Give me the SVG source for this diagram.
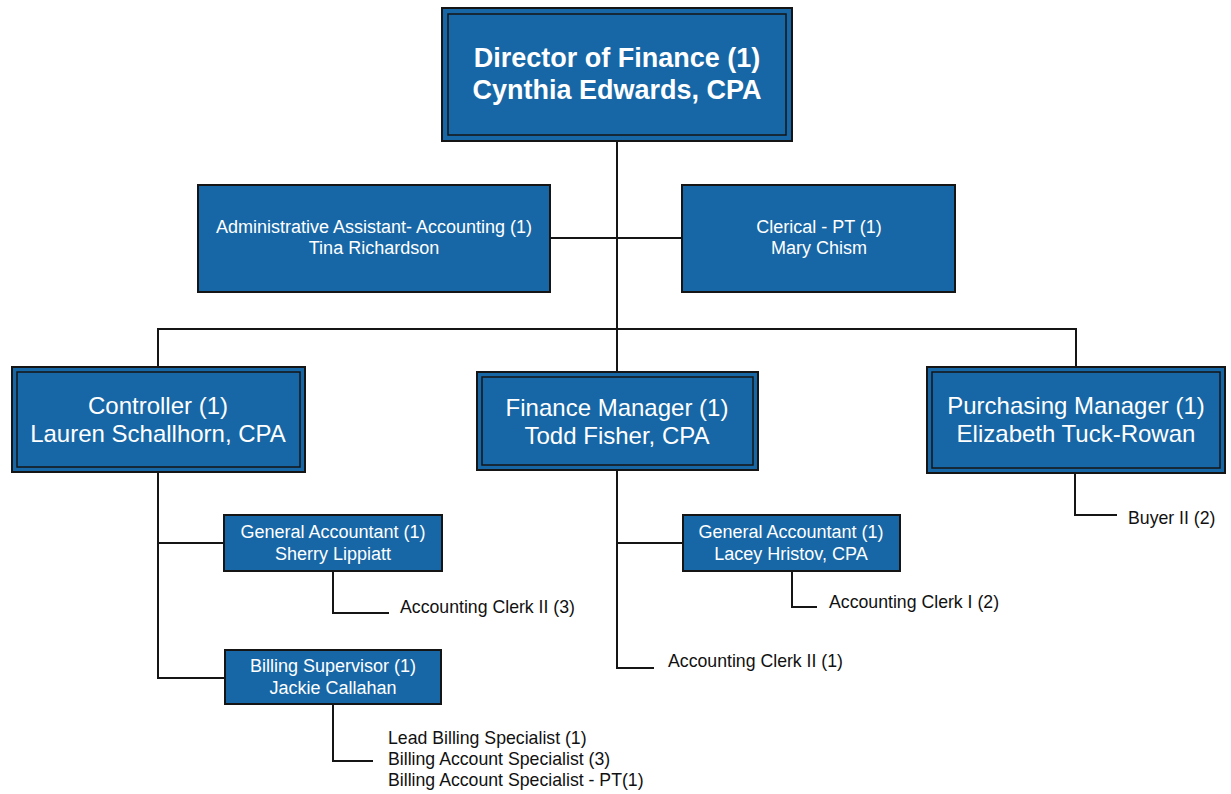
<svg xmlns="http://www.w3.org/2000/svg" width="1231" height="794" viewBox="0 0 1231 794">
  <style>
    .box { fill: #1767a6; stroke: #151515; stroke-width: 2; }
    .inner { fill: none; stroke: #151515; stroke-width: 1.5; }
    .t { font-family: "Liberation Sans", Arial, sans-serif; fill: #ffffff; text-anchor: middle; }
    .lead { font-size: 27px; font-weight: bold; }
    .mgr { font-size: 24px; }
    .mid { font-size: 18px; }
    .leaf { font-family: "Liberation Sans", Arial, sans-serif; font-size: 17.7px; fill: #111111; }
    .conn { fill: none; stroke: #151515; stroke-width: 2; }
  </style>
  <rect width="1231" height="794" fill="#ffffff"/>

  <!-- connectors -->
  <g id="connectors">
    <!-- trunk from director to finance manager -->
    <path class="conn" d="M617 142 V372"/>
    <!-- staff line to assistants -->
    <path class="conn" d="M550 238 H682"/>
    <!-- bus to the three managers -->
    <path class="conn" d="M158 366 V329 H1076 V366"/>
    <!-- controller branch -->
    <path class="conn" d="M158 472 V678 H225"/>
    <path class="conn" d="M158 543 H224"/>
    <path class="conn" d="M333 571 V613 H389"/>
    <path class="conn" d="M333 704 V761 H373"/>
    <!-- finance manager branch -->
    <path class="conn" d="M617 470 V668 H654"/>
    <path class="conn" d="M617 543 H683"/>
    <path class="conn" d="M792 571 V607 H817"/>
    <!-- purchasing branch -->
    <path class="conn" d="M1075 473 V515 H1117"/>
  </g>

  <g id="director">
    <rect class="box" x="442" y="8" width="350" height="133"/>
    <rect class="inner" x="448" y="14" width="338" height="121"/>
    <text class="t lead" x="617" y="67">Director of Finance (1)</text>
    <text class="t lead" x="617" y="99">Cynthia Edwards, CPA</text>
  </g>

  <g id="admin-assistant">
    <rect class="box" x="198" y="185" width="352" height="107"/>
    <text class="t mid" x="374" y="233">Administrative Assistant- Accounting (1)</text>
    <text class="t mid" x="374" y="254">Tina Richardson</text>
  </g>

  <g id="clerical">
    <rect class="box" x="682" y="185" width="273" height="107"/>
    <text class="t mid" x="819" y="233">Clerical - PT (1)</text>
    <text class="t mid" x="819" y="254">Mary Chism</text>
  </g>

  <g id="controller">
    <rect class="box" x="12" y="367" width="293" height="105"/>
    <rect class="inner" x="17" y="372" width="283" height="95"/>
    <text class="t mgr" x="158" y="414">Controller (1)</text>
    <text class="t mgr" x="158" y="442">Lauren Schallhorn, CPA</text>
  </g>

  <g id="finance-manager">
    <rect class="box" x="477" y="372" width="281" height="98"/>
    <rect class="inner" x="482" y="377" width="271" height="88"/>
    <text class="t mgr" x="617" y="416">Finance Manager (1)</text>
    <text class="t mgr" x="617" y="444">Todd Fisher, CPA</text>
  </g>

  <g id="purchasing-manager">
    <rect class="box" x="927" y="367" width="298" height="106"/>
    <rect class="inner" x="932" y="372" width="288" height="96"/>
    <text class="t mgr" x="1076" y="414">Purchasing Manager (1)</text>
    <text class="t mgr" x="1076" y="442">Elizabeth Tuck-Rowan</text>
  </g>

  <g id="general-accountant-1">
    <rect class="box" x="224" y="515" width="218" height="56"/>
    <text class="t mid" x="333" y="538">General Accountant (1)</text>
    <text class="t mid" x="333" y="560">Sherry Lippiatt</text>
  </g>

  <g id="billing-supervisor">
    <rect class="box" x="225" y="650" width="216" height="54"/>
    <text class="t mid" x="333" y="672">Billing Supervisor (1)</text>
    <text class="t mid" x="333" y="694">Jackie Callahan</text>
  </g>

  <g id="general-accountant-2">
    <rect class="box" x="683" y="515" width="217" height="56"/>
    <text class="t mid" x="791" y="538">General Accountant (1)</text>
    <text class="t mid" x="791" y="560">Lacey Hristov, CPA</text>
  </g>

  <g id="accounting-clerk-ii-3">
    <text class="leaf" x="400" y="613">Accounting Clerk II (3)</text>
  </g>

  <g id="billing-staff">
    <text class="leaf" x="388" y="744">Lead Billing Specialist (1)</text>
    <text class="leaf" x="388" y="765">Billing Account Specialist (3)</text>
    <text class="leaf" x="388" y="786">Billing Account Specialist - PT(1)</text>
  </g>

  <g id="accounting-clerk-i-2">
    <text class="leaf" x="829" y="608">Accounting Clerk I (2)</text>
  </g>

  <g id="accounting-clerk-ii-1">
    <text class="leaf" x="668" y="667">Accounting Clerk II (1)</text>
  </g>

  <g id="buyer-ii">
    <text class="leaf" x="1128" y="524">Buyer II (2)</text>
  </g>
</svg>
